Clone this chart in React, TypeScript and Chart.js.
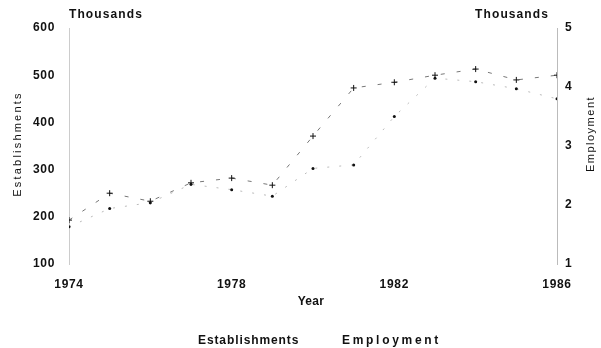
import React, { useEffect, useRef } from "react";
import { Chart, registerables } from "chart.js";

Chart.register(...registerables);

const years = [1974, 1975, 1976, 1977, 1978, 1979, 1980, 1981, 1982, 1983, 1984, 1985, 1986];
const establishments = [193, 250, 233, 272, 282, 267, 371, 473, 485, 500, 513, 490, 500];
const employment = [1.63, 1.94, 2.04, 2.35, 2.26, 2.15, 2.62, 2.68, 3.5, 4.15, 4.09, 3.97, 3.8];
const xTicks = [1974, 1978, 1982, 1986];
const leftTicks = [100, 200, 300, 400, 500, 600];
const rightTicks = [1, 2, 3, 4, 5];

const FONT = "'Liberation Sans', Arial, Helvetica, sans-serif";

const textPlugin = {
  id: "customText",
  beforeDraw(chart: any) {
    chart.ctx.letterSpacing = "0.7px";
  },
  afterDraw(chart: any) {
    const ctx = chart.ctx as CanvasRenderingContext2D;
    const put = (
      text: string,
      x: number,
      y: number,
      font: string,
      spacing: string,
      align: CanvasTextAlign,
      rot = 0
    ) => {
      ctx.save();
      ctx.fillStyle = "#111";
      ctx.font = font;
      (ctx as any).letterSpacing = spacing;
      ctx.textAlign = align;
      ctx.textBaseline = "middle";
      ctx.translate(x, y);
      if (rot) ctx.rotate(rot);
      ctx.fillText(text, 0, 0);
      ctx.restore();
    };
    const bold = `bold 12px ${FONT}`;
    const norm = `11px ${FONT}`;
    put("Thousands", 69, 15, bold, "1.1px", "left");
    put("Thousands", 549, 15, bold, "1.1px", "right");
    put("Year", 311, 302, bold, "0.3px", "center");
    put("Establishments", 198, 341, bold, "0.9px", "left");
    put("Employment", 342, 341, bold, "2.7px", "left");
    put("Establishments", 18, 144, norm, "2.2px", "center", -Math.PI / 2);
    put("Employment", 591, 134, norm, "1.5px", "center", -Math.PI / 2);
  },
};

export default function App() {
  const ref = useRef<HTMLCanvasElement | null>(null);

  useEffect(() => {
    if (!ref.current) return;
    const chart = new Chart(ref.current, {
      type: "line",
      data: {
        datasets: [
          {
            label: "Establishments",
            data: years.map((y, i) => ({ x: y, y: establishments[i] })),
            yAxisID: "y",
            borderColor: "#777",
            borderWidth: 1,
            borderDash: [4, 12],
            pointStyle: "cross",
            pointRadius: 3,
            pointBorderWidth: 1,
            pointBorderColor: "#111",
            pointBackgroundColor: "#111",
            tension: 0,
          },
          {
            label: "Employment",
            data: years.map((y, i) => ({ x: y, y: employment[i] })),
            yAxisID: "y1",
            borderColor: "#bbb",
            borderWidth: 1,
            borderDash: [2, 10],
            pointStyle: "circle",
            pointRadius: 1.5,
            pointBorderWidth: 0,
            pointBackgroundColor: "#111",
            tension: 0,
          },
        ],
      },
      options: {
        responsive: false,
        animation: false,
        layout: { padding: { top: 28, left: 0, right: 0, bottom: 0 } },
        plugins: {
          legend: { display: false },
          tooltip: { enabled: false },
        },
        scales: {
          x: {
            type: "linear",
            min: 1974,
            max: 1986,
            afterFit: (s: any) => {
              s.height = 84;
            },
            afterBuildTicks: (s: any) => {
              s.ticks = xTicks.map((v) => ({ value: v }));
            },
            ticks: {
              padding: 13,
              color: "#111",
              font: { family: FONT, size: 12, weight: "bold" },
              callback: (v: any) => String(v),
              maxRotation: 0,
            },
            grid: { display: false, drawTicks: false },
            border: { display: false },
          },
          y: {
            type: "linear",
            position: "left",
            min: 100,
            max: 600,
            afterFit: (s: any) => {
              s.width = 69;
            },
            afterBuildTicks: (s: any) => {
              s.ticks = leftTicks.map((v) => ({ value: v }));
            },
            ticks: {
              padding: 14,
              color: "#111",
              font: { family: FONT, size: 12, weight: "bold" },
              callback: (v: any) => String(v),
            },
            grid: { display: false, drawTicks: false },
            border: { display: true, color: "#ccc", width: 1, dash: [2, 6] },
          },
          y1: {
            type: "linear",
            position: "right",
            min: 1,
            max: 5,
            afterFit: (s: any) => {
              s.width = 44;
            },
            afterBuildTicks: (s: any) => {
              s.ticks = rightTicks.map((v) => ({ value: v }));
            },
            ticks: {
              padding: 8,
              color: "#111",
              font: { family: FONT, size: 12, weight: "bold" },
              callback: (v: any) => String(v),
            },
            grid: { display: false, drawTicks: false },
            border: { display: true, color: "#bbb", width: 1, dash: [2, 5] },
          },
        },
      },
      plugins: [textPlugin],
    } as any);
    return () => chart.destroy();
  }, []);

  return (
    <div style={{ position: "absolute", left: 0, top: 0, width: 601, height: 348, background: "#fff" }}>
      <canvas ref={ref} width={601} height={348} />
    </div>
  );
}
